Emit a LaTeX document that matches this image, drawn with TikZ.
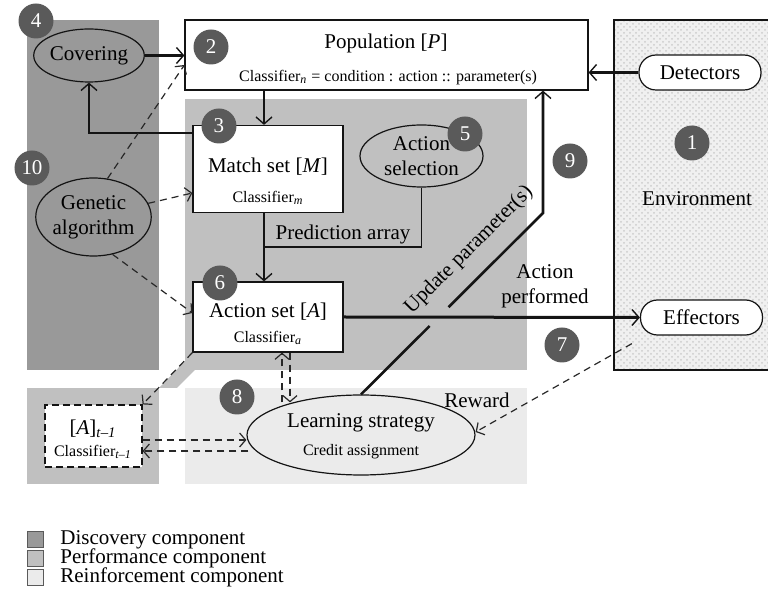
\documentclass[tikz,border=0pt]{standalone}
\usepackage{fontspec}
\setmainfont{Liberation Serif}
\usepackage{xcolor}
\definecolor{disc-gray}{RGB}{153,153,153}
\definecolor{perf-gray}{RGB}{192,192,192}
\definecolor{reinf-gray}{RGB}{235,235,235}
\definecolor{badge-gray}{RGB}{90,90,90}
\definecolor{line-900}{RGB}{20,20,20}
\definecolor{dash-700}{RGB}{40,40,40}
\usetikzlibrary{positioning,shapes.geometric,patterns,arrows.meta,calc}

\newcommand{\lblfont}{\fontsize{10.5}{12.5}\selectfont}
\newcommand{\sublfont}{\fontsize{8}{9.5}\selectfont}

\begin{document}
\begin{tikzpicture}[
    x=0.5pt, y=-0.5pt,
    every node/.style={inner sep=0pt},
    box/.style={draw=line-900, line width=0.6pt, fill=white},
    oval/.style={ellipse, draw=line-900, line width=0.6pt, align=center, font=\lblfont},
    pill/.style={draw=line-900, line width=0.6pt, fill=white, rounded corners=8.5pt, minimum width=61pt, minimum height=17.5pt, font=\lblfont},
    badge/.style={circle, fill=badge-gray, text=white, minimum size=17.5pt, font=\lblfont},
    legbox/.style={draw=line-900!70, line width=0.4pt, minimum size=8pt},
    mainflow/.style={draw=line-900, line width=1.3pt, -{Straight Barb[length=3.5pt,width=8pt,line width=0.7pt]}},
    dashflow/.style={draw=dash-700, line width=0.6pt, dash pattern=on 3.5pt off 2.5pt, -{Straight Barb[length=3pt,width=7pt]}}
]
\useasboundingbox (0,0) rectangle (768,609);

% Component regions
\fill[disc-gray] (27,20) rectangle (159,370);
\fill[perf-gray] (185,99) rectangle (527,370);
\fill[perf-gray] (27,388) rectangle (159,484);
\fill[perf-gray] (185,361) -- (185,370) -- (195,370) -- (177,388) -- (159,388) -- cycle;
\fill[reinf-gray] (185,388) rectangle (527,484);

% Environment
\fill[gray!12] (614,20) rectangle (768,370);
\fill[pattern=crosshatch dots, pattern color=gray!40] (614,20) rectangle (768,370);
\draw[line-900, line width=0.6pt] (768,20) -- (614,20) -- (614,370) -- (768,370);
\node[font=\lblfont] (envlabel) at (697,199) {Environment};
\node[pill] (detectors) at (700,72.5) {Detectors};
\node[pill] (effectors) at (701.5,317.5) {Effectors};

% Population
\node[box, minimum width=201.5pt, minimum height=35pt] (pop) at (386.5,55) {};
\node[font=\lblfont] (poptitle) at (386,43) {Population [\textit{P}]};
\node[font=\sublfont] (poprule) at (388,78) {Classifier\textsubscript{\textit{n}} = condition : action :: parameter(s)};

% Match set and action set
\node[box, minimum width=75pt, minimum height=43.5pt] (match) at (268,169) {};
\node[font=\lblfont] (matchtitle) at (268,167) {Match set [\textit{M}]};
\node[font=\sublfont] (matchsub) at (268,198) {Classifier\textsubscript{\textit{m}}};

\node[box, minimum width=75pt, minimum height=35pt] (action) at (268,317) {};
\node[font=\lblfont] (actiontitle) at (268,312) {Action set [\textit{A}]};
\node[font=\sublfont] (actionsub) at (268,338) {Classifier\textsubscript{\textit{a}}};

\node[oval, fill=perf-gray, minimum width=61.5pt, minimum height=31pt] (actsel) at (421.5,156) {Action\\selection};

% Discovery
\node[oval, fill=disc-gray, minimum width=52.5pt, minimum height=26.5pt] (cover) at (89,55.5) {Covering};
\node[oval, fill=disc-gray, minimum width=56.5pt, minimum height=39pt] (ga) at (93.5,217) {Genetic\\algorithm};

% Reinforcement
\node[oval, fill=reinf-gray, minimum width=114pt, minimum height=40pt] (learn) at (361,435) {};
\node[font=\lblfont] (learntitle) at (361,423) {Learning strategy};
\node[font=\sublfont] (learnsub) at (361,452) {Credit assignment};

\node[box, dashed, dash pattern=on 3.5pt off 2pt, minimum width=48.5pt, minimum height=31pt] (prev) at (93.5,436) {};
\node[font=\lblfont] (prevtitle) at (93,429) {[\textit{A}]\textsubscript{\textit{t}--\textit{1}}};
\node[font=\sublfont] (prevsub) at (93,452) {Classifier\textsubscript{\textit{t}--\textit{1}}};

% Solid connectors
\draw[mainflow] (cover.east) -- (cover.east -| pop.west);
\draw[mainflow, line width=1pt] ([yshift=-4pt]match.north west) -| (cover.south);
\draw[mainflow] ([xshift=-2pt]match.north |- pop.south) -- ([xshift=-2pt]match.north);
\draw[mainflow] (detectors.west) -- (detectors.west -| pop.east);
\coordinate (predjoin) at ([xshift=-2pt]match.south |- 0,247);
\draw[mainflow] ([xshift=-2pt]match.south) -- ([xshift=-2pt]action.north);
\draw[line-900, line width=0.6pt] (actsel.south) |- (predjoin);
\node[font=\lblfont, anchor=south] (predlabel) at (343,244) {Prediction array};
\draw[mainflow, line width=1.5pt] (action.east) -- (effectors.west);
\node[font=\lblfont, align=center] (perflabel) at (545,286) {Action\\performed};

% Update parameter(s)
\coordinate (upbend) at (543,213);
\draw[line-900, line width=1.3pt] (learn.north) -- ($(learn.north)!0.377!(upbend)$);
\draw[mainflow] ($(learn.north)!0.481!(upbend)$) -- (upbend) -- (upbend |- pop.south);
\node[font=\lblfont, rotate=45] (uplabel) at (469,250) {Update parameter(s)};

% Dashed connectors
\draw[dashflow] (ga.70) -- ([yshift=-5pt]pop.west);
\draw[dashflow] (ga.14) -- ([yshift=-12pt]match.west);
\draw[dashflow] (ga.297) -- ([yshift=2pt]action.west);
\draw[dashflow] (action.south west) -- (prev.north east);
\draw[dashflow] ([xshift=7pt,yshift=-4pt]action.south |- learn.north) -- ([xshift=7pt]action.south);
\draw[dashflow] ([xshift=11pt]action.south) -- ([xshift=11pt,yshift=-4pt]action.south |- learn.north);
\draw[dashflow] ([yshift=-2pt]prev.east) -- ([yshift=-2pt]prev.east -| learn.west);
\draw[dashflow] ([yshift=-7.5pt,xshift=1pt]prev.east -| learn.west) -- ([yshift=-7.5pt]prev.east);
\draw[dashflow] ([xshift=-4pt,yshift=-4pt]effectors.south west) -- ([yshift=1.5pt]learn.east);
\node[font=\lblfont] (rewardlabel) at (477,400) {Reward};

% Numbered badges
\node[badge] (b1) at (692,143) {1};
\node[badge] (b2) at (211,47) {2};
\node[badge] (b3) at (219,126) {3};
\node[badge] (b4) at (36,21) {4};
\node[badge] (b5) at (465,134) {5};
\node[badge] (b6) at (220,283) {6};
\node[badge] (b7) at (562,345) {7};
\node[badge] (b8) at (237,397) {8};
\node[badge] (b9) at (570,161) {9};
\node[badge] (b10) at (32,168) {10};

% Legend
\node[legbox, fill=disc-gray] (legdisc) at (35,539.5) {};
\node[legbox, fill=perf-gray] (legperf) at (35,558) {};
\node[legbox, fill=reinf-gray] (legreinf) at (35,577) {};
\node[font=\lblfont, anchor=west] (legdisctext) at (60,539.5) {Discovery component};
\node[font=\lblfont, anchor=west] (legperftext) at (60,558) {Performance component};
\node[font=\lblfont, anchor=west] (legreinftext) at (60,577) {Reinforcement component};

\end{tikzpicture}
\end{document}
